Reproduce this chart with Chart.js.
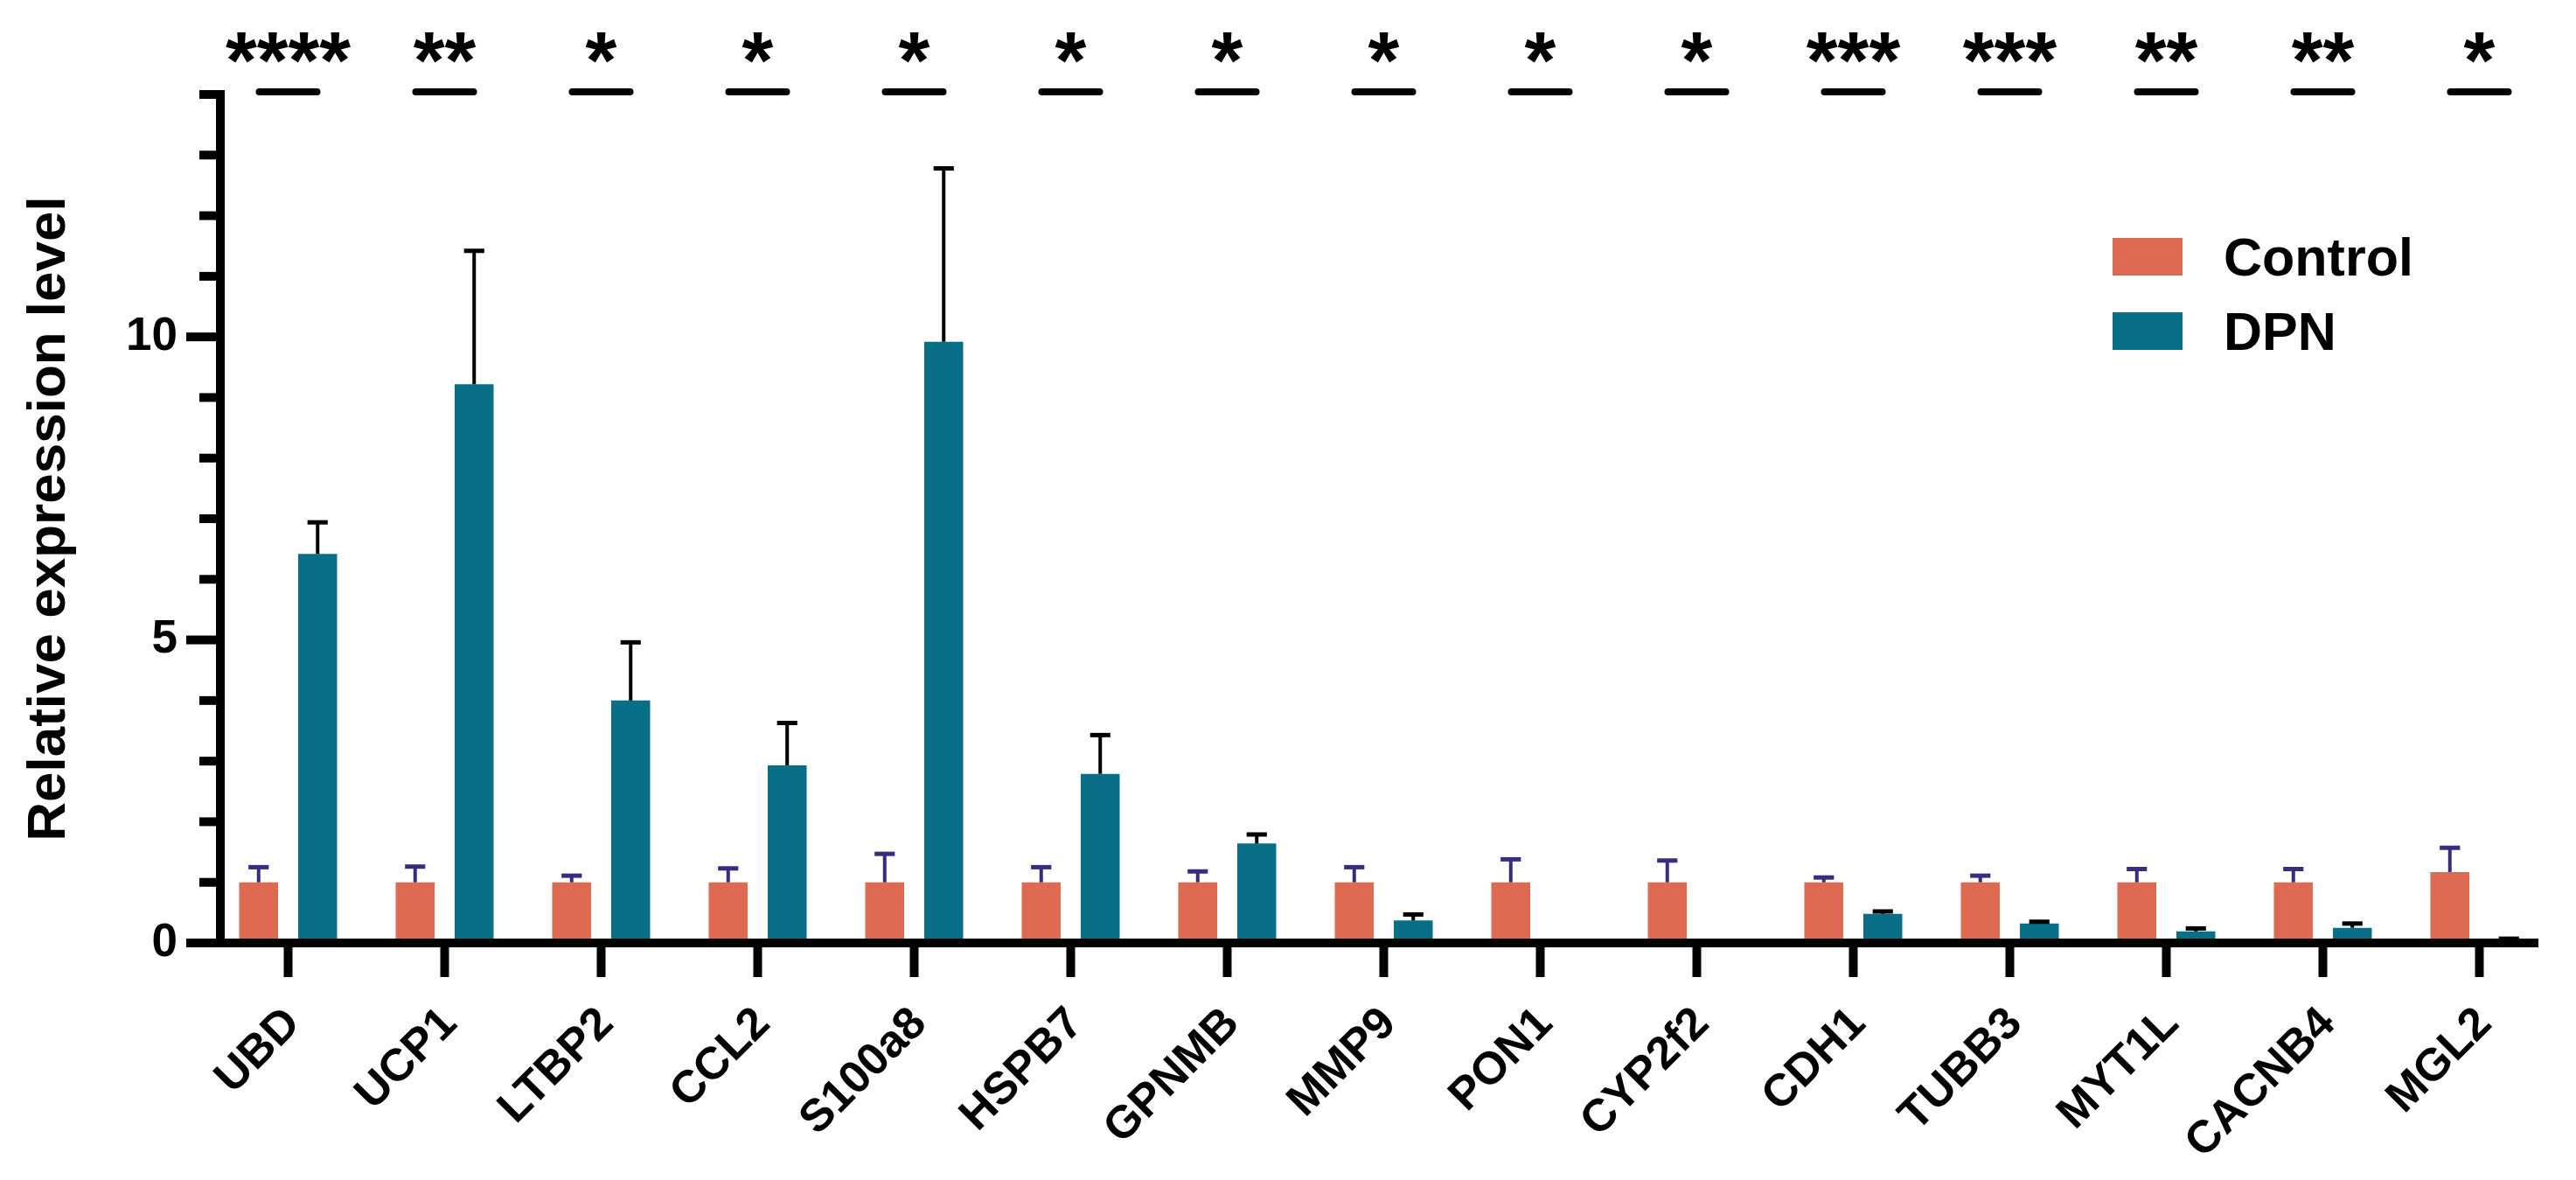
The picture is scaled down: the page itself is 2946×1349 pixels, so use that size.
<!DOCTYPE html>
<html>
<head>
<meta charset="utf-8">
<script src="https://cdn.jsdelivr.net/npm/chart.js@4.4.0/dist/chart.umd.min.js"></script>
<style>
  html, body { margin: 0; padding: 0; background: #fff; }
  #wrap { width: 2946px; height: 1349px; }
</style>
</head>
<body>
<div id="wrap"><canvas id="myChart" width="2946" height="1349"></canvas></div>
<script>
'use strict';

const genes = ['UBD', 'UCP1', 'LTBP2', 'CCL2', 'S100a8', 'HSPB7', 'GPNMB', 'MMP9',
  'PON1', 'CYP2f2', 'CDH1', 'TUBB3', 'MYT1L', 'CACNB4', 'MGL2'];
const controlMean = [1, 1, 1, 1, 1, 1, 1, 1, 1, 1, 1, 1, 1, 1, 1.17];
const controlSem = [0.25, 0.26, 0.11, 0.23, 0.47, 0.25, 0.18, 0.25, 0.38, 0.36, 0.08, 0.11, 0.22, 0.22, 0.4];
const dpnMean = [6.42, 9.22, 4.0, 2.93, 9.92, 2.79, 1.64, 0.37, 0, 0, 0.48, 0.32, 0.19, 0.25, 0.04];
const dpnSem = [0.52, 2.2, 0.96, 0.7, 2.86, 0.64, 0.15, 0.1, 0, 0, 0.04, 0.03, 0.05, 0.07, 0.03];
const stars = ['****', '**', '*', '*', '*', '*', '*', '*', '*', '*', '***', '***', '**', '**', '*'];
const yMajor = [0, 5, 10];

const BLACK = '#000000';
const FONT = '"Liberation Sans", Arial, Helvetica, sans-serif';

// error bars, upward only
const errorBarPlugin = {
  id: 'errorBars',
  afterDatasetsDraw(chart) {
    const ctx = chart.ctx;
    const y = chart.scales.y;
    chart.data.datasets.forEach((ds, i) => {
      const meta = chart.getDatasetMeta(i);
      meta.data.forEach((bar, j) => {
        const err = ds.errors[j];
        if (!err) return;
        const top = y.getPixelForValue(ds.data[j] + err);
        const half = bar.width * 0.26;
        ctx.save();
        ctx.strokeStyle = ds.errorColor;
        ctx.lineWidth = 4;
        ctx.beginPath();
        ctx.moveTo(bar.x, bar.y);
        ctx.lineTo(bar.x, top);
        ctx.stroke();
        ctx.lineWidth = 5;
        ctx.beginPath();
        ctx.moveTo(bar.x - half, top);
        ctx.lineTo(bar.x + half, top);
        ctx.stroke();
        ctx.restore();
      });
    });
  }
};

// prism style axes: offset y axis, x axis running a bit past it
const axesPlugin = {
  id: 'prismAxes',
  afterDatasetsDraw(chart) {
    const ctx = chart.ctx;
    const area = chart.chartArea;
    const y = chart.scales.y;
    const x = chart.scales.x;
    const axisX = area.left + 12;
    const y0 = y.getPixelForValue(0);
    ctx.save();
    ctx.strokeStyle = BLACK;
    ctx.fillStyle = BLACK;
    // y axis
    ctx.lineWidth = 10;
    ctx.beginPath();
    ctx.moveTo(axisX, y0);
    ctx.lineTo(axisX, y.getPixelForValue(14) - 5);
    ctx.stroke();
    for (let v = 1; v <= 14; v++) {
      const py = y.getPixelForValue(v);
      const len = v % 5 === 0 ? 39 : 24;
      ctx.fillRect(axisX - len, py - 5, len, 10);
    }
    // x axis
    ctx.beginPath();
    ctx.moveTo(area.left - 27, y0);
    ctx.lineTo(area.right - 22, y0);
    ctx.stroke();
    genes.forEach((g, j) => {
      const px = x.getPixelForValue(j);
      ctx.fillRect(px - 5, y0, 10, 39);
    });
    ctx.restore();
  }
};

// significance marks above each pair
const sigPlugin = {
  id: 'significance',
  afterDraw(chart) {
    const ctx = chart.ctx;
    const x = chart.scales.x;
    const lineY = chart.chartArea.top - 3;
    ctx.save();
    ctx.strokeStyle = BLACK;
    ctx.fillStyle = BLACK;
    ctx.lineWidth = 8;
    ctx.lineCap = 'round';
    ctx.font = 'bold 92px ' + FONT;
    ctx.textAlign = 'center';
    ctx.textBaseline = 'alphabetic';
    stars.forEach((s, j) => {
      const px = x.getPixelForValue(j);
      ctx.beginPath();
      ctx.moveTo(px - 33, lineY);
      ctx.lineTo(px + 33, lineY);
      ctx.stroke();
      ctx.fillText(s, px, lineY - 4);
    });
    ctx.restore();
  }
};

// legend in the upper right
const legendPlugin = {
  id: 'boxLegend',
  afterDraw(chart) {
    const ctx = chart.ctx;
    ctx.save();
    ctx.font = 'bold 61px ' + FONT;
    ctx.textBaseline = 'alphabetic';
    ctx.textAlign = 'left';
    chart.data.datasets.forEach((ds, i) => {
      const top = 272 + i * 85;
      ctx.fillStyle = ds.backgroundColor;
      ctx.fillRect(2416, top, 80, 43);
      ctx.fillStyle = BLACK;
      ctx.fillText(ds.label, 2543, top + 43);
    });
    ctx.restore();
  }
};

new Chart(document.getElementById('myChart'), {
  type: 'bar',
  data: {
    labels: genes,
    datasets: [
      {
        label: 'Control',
        data: controlMean,
        errors: controlSem,
        errorColor: '#3b2a7e',
        backgroundColor: '#DE6A51',
        categoryPercentage: 0.754,
        barPercentage: 0.66,
      },
      {
        label: 'DPN',
        data: dpnMean,
        errors: dpnSem,
        errorColor: '#000000',
        backgroundColor: '#086F87',
        categoryPercentage: 0.754,
        barPercentage: 0.66,
      },
    ],
  },
  options: {
    responsive: false,
    devicePixelRatio: 1,
    animation: false,
    layout: { padding: { top: 108, right: 21, left: 0, bottom: 0 } },
    plugins: {
      legend: { display: false },
      tooltip: { enabled: false },
    },
    scales: {
      x: {
        grid: { display: false, drawTicks: false },
        border: { display: false },
        ticks: {
          color: BLACK,
          font: { family: FONT, size: 52, weight: 'bold' },
          minRotation: 45,
          maxRotation: 45,
          padding: 62,
          labelOffset: 6,
          autoSkip: false,
        },
        afterFit: (scale) => { scale.height = 271; },
      },
      y: {
        min: 0,
        max: 14,
        grid: { display: false, drawTicks: false },
        border: { display: false },
        ticks: {
          stepSize: 1,
          color: BLACK,
          padding: 37,
          font: { family: FONT, size: 53, weight: 'bold' },
          callback: function (value) {
            return yMajor.includes(value) ? String(value) : '';
          },
        },
        title: {
          display: true,
          text: 'Relative expression level',
          color: BLACK,
          padding: { top: 20, bottom: 0 },
          font: { family: FONT, size: 62, weight: 'bold' },
        },
        afterFit: (scale) => { scale.width = 240; },
      },
    },
  },
  plugins: [axesPlugin, errorBarPlugin, sigPlugin, legendPlugin],
});
</script>
</body>
</html>
